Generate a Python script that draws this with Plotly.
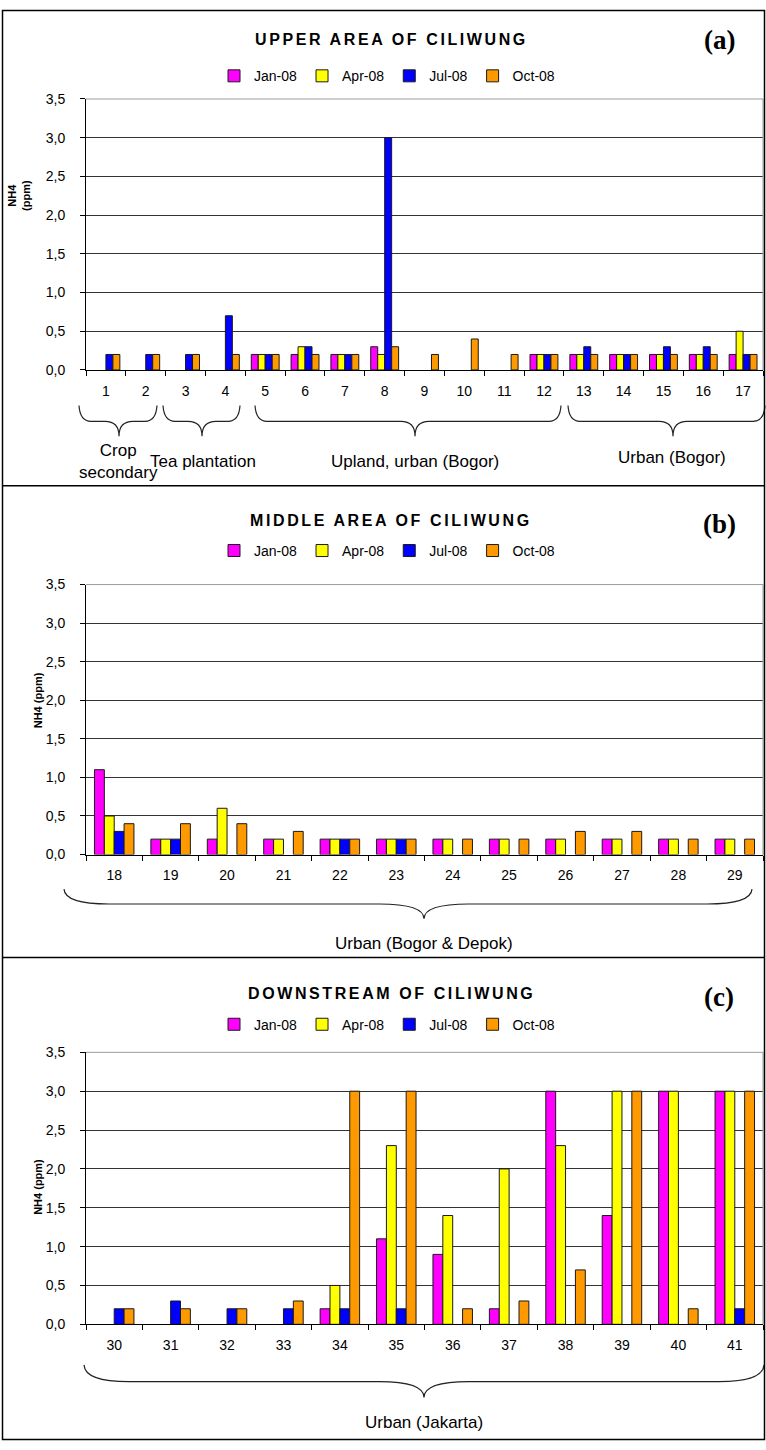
import plotly.graph_objects as go

W, H = 766, 1450

# ---- data -------------------------------------------------------------
series_names = ["Jan-08", "Apr-08", "Jul-08", "Oct-08"]
series_colors = ["#FF00FF", "#FFFF00", "#0000FF", "#FF9900"]

upper_sites = [str(i) for i in range(1, 18)]
upper_jan = [None, None, None, None, 0.2, 0.2, 0.2, 0.3, None, None, None, 0.2, 0.2, 0.2, 0.2, 0.2, 0.2]
upper_apr = [None, None, None, None, 0.2, 0.3, 0.2, 0.2, None, None, None, 0.2, 0.2, 0.2, 0.2, 0.2, 0.5]
upper_jul = [0.2, 0.2, 0.2, 0.7, 0.2, 0.3, 0.2, 3.0, None, None, None, 0.2, 0.3, 0.2, 0.3, 0.3, 0.2]
upper_oct = [0.2, 0.2, 0.2, 0.2, 0.2, 0.2, 0.2, 0.3, 0.2, 0.4, 0.2, 0.2, 0.2, 0.2, 0.2, 0.2, 0.2]

middle_sites = [str(i) for i in range(18, 30)]
middle_jan = [1.1, 0.2, 0.2, 0.2, 0.2, 0.2, 0.2, 0.2, 0.2, 0.2, 0.2, 0.2]
middle_apr = [0.5, 0.2, 0.6, 0.2, 0.2, 0.2, 0.2, 0.2, 0.2, 0.2, 0.2, 0.2]
middle_jul = [0.3, 0.2, None, None, 0.2, 0.2, None, None, None, None, None, None]
middle_oct = [0.4, 0.4, 0.4, 0.3, 0.2, 0.2, 0.2, 0.2, 0.3, 0.3, 0.2, 0.2]

down_sites = [str(i) for i in range(30, 42)]
down_jan = [None, None, None, None, 0.2, 1.1, 0.9, 0.2, 3.0, 1.4, 3.0, 3.0]
down_apr = [None, None, None, None, 0.5, 2.3, 1.4, 2.0, 2.3, 3.0, 3.0, 3.0]
down_jul = [0.2, 0.3, 0.2, 0.2, 0.2, 0.2, None, None, None, None, None, 0.2]
down_oct = [0.2, 0.2, 0.2, 0.3, 3.0, 3.0, 0.2, 0.3, 0.7, 3.0, 0.2, 3.0]

panel_titles = ["UPPER AREA OF CILIWUNG", "MIDDLE AREA OF CILIWUNG", "DOWNSTREAM OF CILIWUNG"]
panel_tags = ["(a)", "(b)", "(c)"]
upper_groups = ["Crop<br>secondary", "Tea plantation", "Upland, urban (Bogor)", "Urban (Bogor)"]
middle_group = "Urban (Bogor & Depok)"
down_group = "Urban (Jakarta)"

# ---- helpers (pixel -> paper) -------------------------------------------
def px(x):
    return x / W


def py(y):
    return 1 - y / H


SANS = "Liberation Sans, Arial, sans-serif"
SERIF = "Liberation Serif, Times New Roman, serif"

fig = go.Figure()

panels = [
    dict(sites=upper_sites, vals=[upper_jan, upper_apr, upper_jul, upper_oct], ax="", top=92, bottom=366,
         title_y=32, legend_y=69, tag_y=32),
    dict(sites=middle_sites, vals=[middle_jan, middle_apr, middle_jul, middle_oct], ax="2", top=583, bottom=856,
         title_y=518, legend_y=549, tag_y=522),
    dict(sites=down_sites, vals=[down_jan, down_apr, down_jul, down_oct], ax="3", top=1056, bottom=1331,
         title_y=997, legend_y=1028, tag_y=1000),
]

X0, X1 = 86, 763
annotations = []
shapes = []

for i, p in enumerate(panels):
    leg = "legend" + p["ax"]
    for name, color, vals in zip(series_names, series_colors, p["vals"]):
        fig.add_trace(go.Bar(
            x=p["sites"], y=vals, name=name,
            marker=dict(color=color, line=dict(color="#1a1a1a", width=1)),
            xaxis="x" + p["ax"], yaxis="y" + p["ax"], legend=leg,
        ))

    xa = dict(
        domain=[px(X0), px(X1)], anchor="y" + p["ax"], type="category",
        showline=True, linecolor="black", linewidth=1,
        ticks="outside", ticklen=5, tickcolor="black", tickson="boundaries",
        showgrid=False, tickfont=dict(size=14, color="black"), ticklabelstandoff=8,
        fixedrange=True,
    )
    ya = dict(
        domain=[py(p["bottom"]), py(p["top"])], anchor="x" + p["ax"],
        range=[0, 3.5], tick0=0, dtick=0.5, tickformat=".1f",
        showline=True, linecolor="black", linewidth=1,
        ticks="outside", ticklen=5, tickcolor="black",
        showgrid=True, gridcolor="#333333", gridwidth=1, zeroline=False,
        tickfont=dict(size=14, color="black"), ticklabelstandoff=12,
        fixedrange=True,
    )
    fig.update_layout(**{"xaxis" + p["ax"]: xa, "yaxis" + p["ax"]: ya})

    fig.update_layout(**{leg: dict(
        orientation="h", x=px(387), xanchor="center", y=py(p["legend_y"]), yanchor="middle",
        font=dict(size=14, family=SANS, color="black"), itemwidth=30,
        bgcolor="rgba(0,0,0,0)", traceorder="normal",
    )})

    # panel heading and tag
    annotations.append(dict(
        text='<span style="letter-spacing:2.6px"><b>%s</b></span>' % panel_titles[i],
        x=px(391), y=py(p["title_y"]), xref="paper", yref="paper",
        xanchor="center", yanchor="middle", showarrow=False,
        font=dict(size=16, family=SANS, color="black"),
    ))
    annotations.append(dict(
        text="<b>%s</b>" % panel_tags[i], x=px(719), y=py(p["tag_y"]), xref="paper", yref="paper",
        xanchor="center", yanchor="middle", showarrow=False,
        font=dict(size=27, family=SERIF, color="black"),
    ))

    # grey frame on the top and right of the plotting area
    for (a0, b0, a1, b1) in [(0, 1, 1, 1), (1, 0, 1, 1)]:
        shapes.append(dict(type="line", xref="x%s domain" % p["ax"], yref="y%s domain" % p["ax"],
                           x0=a0, y0=b0, x1=a1, y1=b1, line=dict(color="#9a9a9a", width=1), layer="above"))

# y-axis titles
annotations.append(dict(text="<b>NH4<br>(ppm)</b>", x=px(19), y=py(190), xref="paper", yref="paper",
                        textangle=-90, showarrow=False, xanchor="center", yanchor="middle",
                        font=dict(size=11, family=SANS, color="black")))
for yy in (700, 1192):
    annotations.append(dict(text="<b>NH4 (ppm)</b>", x=px(38), y=py(yy), xref="paper", yref="paper",
                            textangle=-90, showarrow=False, xanchor="center", yanchor="middle",
                            font=dict(size=11, family=SANS, color="black")))


def brace(x0, x1, xm, ytop, ybar, ytip, r_end, r_tip):
    """Curly brace path (pixel coordinates in, paper coordinates out)."""
    def P(x, y):
        return "%.5f,%.5f" % (px(x), py(y))
    d = ("M %s Q %s %s L %s Q %s %s Q %s %s L %s Q %s %s" % (
        P(x0, ytop), P(x0 + 1, ybar), P(x0 + r_end, ybar),
        P(xm - r_tip, ybar), P(xm, ybar), P(xm, ytip),
        P(xm, ybar), P(xm + r_tip, ybar),
        P(x1 - r_end, ybar), P(x1 - 1, ybar), P(x1, ytop)))
    return dict(type="path", path=d, xref="paper", yref="paper",
                line=dict(color="#222222", width=1.2), layer="above")


# braces under the upper-area sites
for (b0, b1, bm) in [(79, 157, 119), (163, 240, 202), (255, 561, 415), (568, 765, 673)]:
    shapes.append(brace(b0, b1, bm, 402, 418, 433, 12, 14))
for text, (tx, ty) in zip(upper_groups, [(118, 459), (203, 459), (415, 459), (672, 455)]):
    annotations.append(dict(text=text, x=px(tx), y=py(ty), xref="paper", yref="paper",
                            showarrow=False, xanchor="center", yanchor="middle",
                            font=dict(size=17, family=SANS, color="black")))

shapes.append(brace(64, 752, 424, 891, 906, 921, 45, 45))
annotations.append(dict(text=middle_group, x=px(424), y=py(946), xref="paper", yref="paper",
                        showarrow=False, xanchor="center", yanchor="middle",
                        font=dict(size=17, family=SANS, color="black")))

shapes.append(brace(84, 764, 424, 1372, 1389, 1405, 45, 45))
annotations.append(dict(text=down_group, x=px(424), y=py(1430), xref="paper", yref="paper",
                        showarrow=False, xanchor="center", yanchor="middle",
                        font=dict(size=17, family=SANS, color="black")))

# outer frame and panel separators
shapes.append(dict(type="rect", xref="paper", yref="paper", x0=px(2.5), x1=px(764.5), y0=py(1447.5), y1=py(2.5),
                   line=dict(color="black", width=1.5), layer="above"))
for yy in (483, 960):
    shapes.append(dict(type="line", xref="paper", yref="paper", x0=px(2.5), x1=px(764.5), y0=py(yy), y1=py(yy),
                       line=dict(color="black", width=1.5), layer="above"))

fig.update_layout(
    width=W, height=H, margin=dict(l=0, r=0, t=0, b=0),
    paper_bgcolor="white", plot_bgcolor="white",
    barmode="group", bargap=0.3, bargroupgap=0,
    separators=", ",
    font=dict(family=SANS, color="black"),
    annotations=annotations, shapes=shapes,
)

fig.write_html("out.html")
